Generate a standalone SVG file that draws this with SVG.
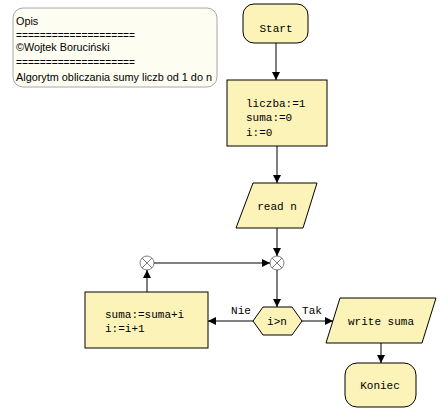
<svg xmlns="http://www.w3.org/2000/svg" width="442" height="414" viewBox="0 0 442 414">
<style>
.node{fill:#fbf3b8;stroke:#000;stroke-width:1}
.code{font-family:"Liberation Mono","Courier New",monospace;font-size:11px;fill:#000}
.desc{font-family:"Liberation Sans",Arial,sans-serif;font-size:10.8px;fill:#000}
.edge{stroke:#000;stroke-width:1;fill:none}
.junc{fill:#fff;stroke:#808080;stroke-width:1}
.cross{stroke:#808080;stroke-width:1}
</style>
<defs>
<marker id="arr" viewBox="0 0 8 8" refX="8" refY="4" markerWidth="8" markerHeight="8" orient="auto" markerUnits="userSpaceOnUse">
<path d="M0,0 L8,4 L0,8 z" fill="#000"/>
</marker>
</defs>
<rect width="442" height="414" fill="#fff"/>
<g id="opis">
<rect x="13" y="8" width="204" height="79" rx="10" ry="10" fill="#fdfdf2" stroke="#a8a8a8"/>
<text class="desc" x="16" y="25">Opis</text>
<text class="desc" x="16" y="39" textLength="119" lengthAdjust="spacingAndGlyphs">====================</text>
<text class="desc" x="16" y="51">©Wojtek Boruciński</text>
<text class="desc" x="16" y="66" textLength="119" lengthAdjust="spacingAndGlyphs">====================</text>
<text class="desc" x="16" y="81" textLength="196" lengthAdjust="spacingAndGlyphs">Algorytm obliczania sumy liczb od 1 do n</text>
</g>
<g id="start">
<rect class="node" x="243" y="4" width="65" height="39" rx="11" ry="11"/>
<text class="code" x="276" y="32" text-anchor="middle">Start</text>
</g>
<g id="init">
<rect class="node" x="227" y="80" width="100" height="66"/>
<text class="code" x="246" y="107">liczba:=1</text>
<text class="code" x="246" y="121">suma:=0</text>
<text class="code" x="246" y="136">i:=0</text>
</g>
<g id="read">
<polygon class="node" points="253,183 317,183 303,228 236,228"/>
<text class="code" x="277" y="210" text-anchor="middle">read n</text>
</g>
<g id="junction1">
<circle class="junc" cx="277" cy="263" r="7"/>
<path class="cross" d="M272,258 L282,268 M282,258 L272,268"/>
</g>
<g id="junction2">
<circle class="junc" cx="147" cy="263" r="7"/>
<path class="cross" d="M142,258 L152,268 M152,258 L142,268"/>
</g>
<g id="decision">
<polygon class="node" points="253,321 263,307 292,307 302,321 292,335 263,335"/>
<text class="code" x="277" y="325" text-anchor="middle">i&gt;n</text>
</g>
<g id="loop">
<rect class="node" x="85" y="292" width="123" height="56"/>
<text class="code" x="105" y="318">suma:=suma+i</text>
<text class="code" x="105" y="332">i:=i+1</text>
</g>
<g id="write">
<polygon class="node" points="340,298 436,298 422,343 326,343"/>
<text class="code" x="381" y="325" text-anchor="middle">write suma</text>
</g>
<g id="koniec">
<rect class="node" x="345" y="363" width="71" height="44" rx="12" ry="12"/>
<text class="code" x="380" y="389" text-anchor="middle">Koniec</text>
</g>
<g id="connectors">
<line class="edge" x1="276" y1="43" x2="276" y2="80" marker-end="url(#arr)"/>
<line class="edge" x1="277" y1="146" x2="277" y2="183" marker-end="url(#arr)"/>
<line class="edge" x1="277" y1="228" x2="277" y2="256" marker-end="url(#arr)"/>
<line class="edge" x1="277" y1="270" x2="277" y2="307" marker-end="url(#arr)"/>
<line class="edge" x1="253" y1="321" x2="208" y2="321" marker-end="url(#arr)"/>
<line class="edge" x1="302" y1="321" x2="333" y2="321" marker-end="url(#arr)"/>
<line class="edge" x1="147" y1="292" x2="147" y2="270" marker-end="url(#arr)"/>
<line class="edge" x1="154" y1="263" x2="270" y2="263" marker-end="url(#arr)"/>
<line class="edge" x1="381" y1="343" x2="381" y2="363" marker-end="url(#arr)"/>
<text class="code" x="241" y="314" text-anchor="middle">Nie</text>
<text class="code" x="312" y="314" text-anchor="middle">Tak</text>
</g>
</svg>
